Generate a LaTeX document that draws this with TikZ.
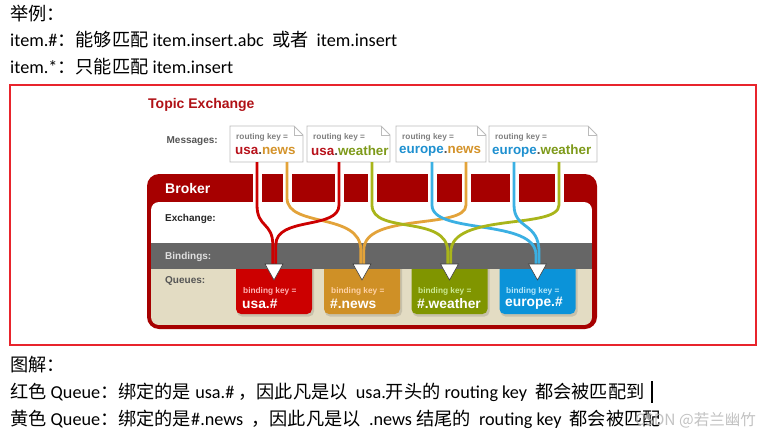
\documentclass[tikz,border=0pt]{standalone}
\usepackage{fontspec}
\setmainfont{Carlito}
\newfontfamily\cjk{Noto Sans CJK SC}
\newfontfamily\arialf{Liberation Sans}
\newcommand{\zh}[1]{{\cjk #1}}
\definecolor{framered}{HTML}{E8242C}
\definecolor{titlered}{HTML}{B01116}
\definecolor{brokerred}{HTML}{A60000}
\definecolor{cusa}{HTML}{B8121B}
\definecolor{cnews}{HTML}{D4932A}
\definecolor{cweather}{HTML}{7E9A1A}
\definecolor{ceurope}{HTML}{1E90D0}
\definecolor{cdot}{HTML}{555555}
\definecolor{lred}{HTML}{CC0000}
\definecolor{lorange}{HTML}{E3A33A}
\definecolor{lgreen}{HTML}{A9B51A}
\definecolor{lblue}{HTML}{3BB0E3}
\definecolor{qred}{HTML}{CC0000}
\definecolor{qorange}{HTML}{CF9026}
\definecolor{qgreen}{HTML}{809500}
\definecolor{qblue}{HTML}{0B93D9}
\definecolor{bandgray}{HTML}{666666}
\definecolor{beige}{HTML}{E3DCC3}
\definecolor{msgborder}{HTML}{BBBBBB}
\definecolor{labgray}{HTML}{555555}
\definecolor{wmgray}{HTML}{B8B8B8}
\begin{document}
\begin{tikzpicture}[x=1pt,y=-1pt,
  txt/.style={anchor=base west,inner sep=0pt,font=\fontsize{18.2}{20}\selectfont},
  lab/.style={anchor=west,inner sep=0pt,font=\arialf\bfseries\fontsize{10}{12}\selectfont},
  rk/.style={anchor=west,inner sep=0pt,text=gray,font=\arialf\bfseries\fontsize{8.3}{10}\selectfont},
  keytxt/.style={anchor=west,inner sep=0pt,font=\arialf\bfseries\fontsize{13.4}{15}\selectfont},
  bk/.style={anchor=west,inner sep=0pt,font=\arialf\bfseries\fontsize{8.3}{10}\selectfont},
  qkey/.style={anchor=west,inner sep=0pt,text=white,font=\arialf\bfseries\fontsize{13.8}{15}\selectfont},
  queue/.style={minimum width=76pt,minimum height=54pt,inner sep=0pt,rounded corners=5pt},
  mbox/.style={draw=msgborder,line width=0.9pt,fill=white},
  conn/.style={line width=2.8pt},
  tri/.style={fill=white,draw=black!75,line width=0.6pt}]
\useasboundingbox (0,0) rectangle (771,439);
\fill[white] (0,0) rectangle (771,439);

% ---- text above
\node[txt] (t1) at (10,20) {\zh{举例：}};
\node[txt] (t2) at (10,46) {item.\#\zh{：能够匹配} item.insert.abc \ \zh{或者} \ item.insert};
\node[txt] (t3) at (10,73) {item.*\zh{：只能匹配} item.insert};

% ---- frame
\draw[framered,line width=2pt] (10,85) rectangle (756,345);

% ---- title
\node[anchor=west,inner sep=0pt,text=titlered,font=\arialf\bfseries\fontsize{14}{16}\selectfont] (title) at (148,104.5) {Topic Exchange};
\node[lab,anchor=east,text=labgray] (msgs) at (218,141) {Messages:};

% ---- message boxes
\newcommand{\msgbox}[2]{%
  \draw[mbox] (#1,126) -- (#2-9,126) -- (#2,135) -- (#2,162) -- (#1,162) -- cycle;
  \draw[msgborder,line width=0.8pt] (#2-9,126) -- (#2-9,135) -- (#2,135);}
\msgbox{230}{303}
\msgbox{307}{390}
\msgbox{396}{486}
\msgbox{489}{597}
\node[rk] (r1) at (236,137) {routing key =};
\node[rk] (r2) at (313,137) {routing key =};
\node[rk] (r3) at (402,137) {routing key =};
\node[rk] (r4) at (495,137) {routing key =};
\node[keytxt] (k1) at (235,151) {\color{cusa}usa\color{cdot}.\color{cnews}news};
\node[keytxt] (k2) at (311,151) {\color{cusa}usa\color{cdot}.\color{cweather}weather};
\node[keytxt] (k3) at (399,151) {\color{ceurope}europe\color{cdot}.\color{cnews}news};
\node[keytxt] (k4) at (492,151) {\color{ceurope}europe\color{cdot}.\color{cweather}weather};

% ---- broker
\fill[brokerred,rounded corners=12pt] (147,174) rectangle (597,329);
\begin{scope}
  \clip[rounded corners=8pt] (151,202) rectangle (592,325);
  \fill[white] (151,202) rectangle (592,243);
  \fill[beige] (151,243) rectangle (592,325);
  \foreach \cx in {274,362,449.5,537.5}
    \fill[black,opacity=0.12,rounded corners=5pt] (\cx-37,262) rectangle (\cx+40,316.5);
  \node[queue,fill=qred] (q1) at (274,287) {};
  \node[queue,fill=qorange] (q2) at (362,287) {};
  \node[queue,fill=qgreen] (q3) at (449.5,287) {};
  \node[queue,fill=qblue] (q4) at (537.5,287) {};
  \fill[bandgray] (151,243) rectangle (592,269);
\end{scope}
% gaps in header
\foreach \gx in {257,287,339,372,432,466,514,559}
  \fill[white] (\gx-4.5,172) rectangle (\gx+4.5,202.5);

\node[anchor=west,inner sep=0pt,text=white,font=\arialf\bfseries\fontsize{14}{16}\selectfont] (broker) at (165,188) {Broker};
\node[lab,text=black!85] (exch) at (165,219) {Exchange:};
\node[lab,text=black!12] (bind) at (165,256.5) {Bindings:};
\node[lab,text=labgray] (qs) at (165,281) {Queues:};

% ---- queue texts
\node[bk,text=red!30] (b1) at (243,291.5) {binding key =};
\node[bk,text=orange!35] (b2) at (331,291.5) {binding key =};
\node[bk,text=yellow!55!green!45] (b3) at (418,291.5) {binding key =};
\node[bk,text=cyan!30] (b4) at (506,291.5) {binding key =};
\node[qkey] (u1) at (242,303.5) {usa.\#};
\node[qkey] (u2) at (330,303.5) {\#.news};
\node[qkey] (u3) at (417,303.5) {\#.weather};
\node[qkey] (u4) at (505,303.5) {europe.\#};

% ---- connector ends
\coordinate (s1) at (257,162); \coordinate (s2) at (287,162);
\coordinate (s3) at (339,162); \coordinate (s4) at (372,162);
\coordinate (s5) at (432,162); \coordinate (s6) at (466,162);
\coordinate (s7) at (514,162); \coordinate (s8) at (559,162);
\coordinate (e1a) at (272.8,267); \coordinate (e1b) at (275.8,267);
\coordinate (e2a) at (360.8,267); \coordinate (e2b) at (363.8,267);
\coordinate (e3a) at (447.8,267); \coordinate (e3b) at (450.8,267);
\coordinate (e4a) at (536,267); \coordinate (e4b) at (539,267);

% ---- connectors
\draw[conn,lorange] (s2) -- (287,198) .. controls (287,228) and (360.8,212) .. (360.8,250) -- (e2a);
\draw[conn,lorange] (s6) -- (466,205) .. controls (466,230) and (363.8,212) .. (363.8,250) -- (e2b);
\draw[conn,lred] (s1) -- (257,205) .. controls (257,228) and (272.8,222) .. (272.8,245) -- (e1a);
\draw[conn,lred] (s3) -- (339,205) .. controls (339,230) and (275.8,216) .. (275.8,245) -- (e1b);
\draw[conn,lgreen] (s4) -- (372,205) .. controls (372,235) and (447.8,214) .. (447.8,252) -- (e3a);
\draw[conn,lblue] (s5) -- (432,205) .. controls (432,235) and (536,218) .. (536,255) -- (e4a);
\draw[conn,lgreen] (s8) -- (559,205) .. controls (559,230) and (450.8,212) .. (450.8,252) -- (e3b);
\draw[conn,lblue] (s7) -- (514,205) .. controls (514,230) and (539,222) .. (539,252) -- (e4b);

% ---- triangles
\foreach \cx in {274,362,449.5,537.5}
  \draw[tri] (\cx-9,264) -- (\cx+9,264) -- (\cx,280) -- cycle;

% ---- text below
\node[txt] (t4) at (10,371) {\zh{图解：}};
\node[txt] (t5) at (10,398) {\zh{红色} Queue\zh{：绑定的是} usa.\# \zh{，因此凡是以} \ usa.\zh{开头的} routing key \ \zh{都会被匹配到}};
\node[txt] (t6) at (10,425) {\zh{黄色} Queue\zh{：绑定的是}\#.news \ \zh{，因此凡是以} \ .news \zh{结尾的} \ routing key \ \zh{都会被匹配}};
\draw[line width=1.6pt] (652,381) -- (652,403);
\node[anchor=base east,inner sep=0pt,text=wmgray,opacity=0.85,font=\cjk\fontsize{15.5}{18}\selectfont] (wm) at (756,425) {CSDN @若兰幽竹};
\end{tikzpicture}
\end{document}
